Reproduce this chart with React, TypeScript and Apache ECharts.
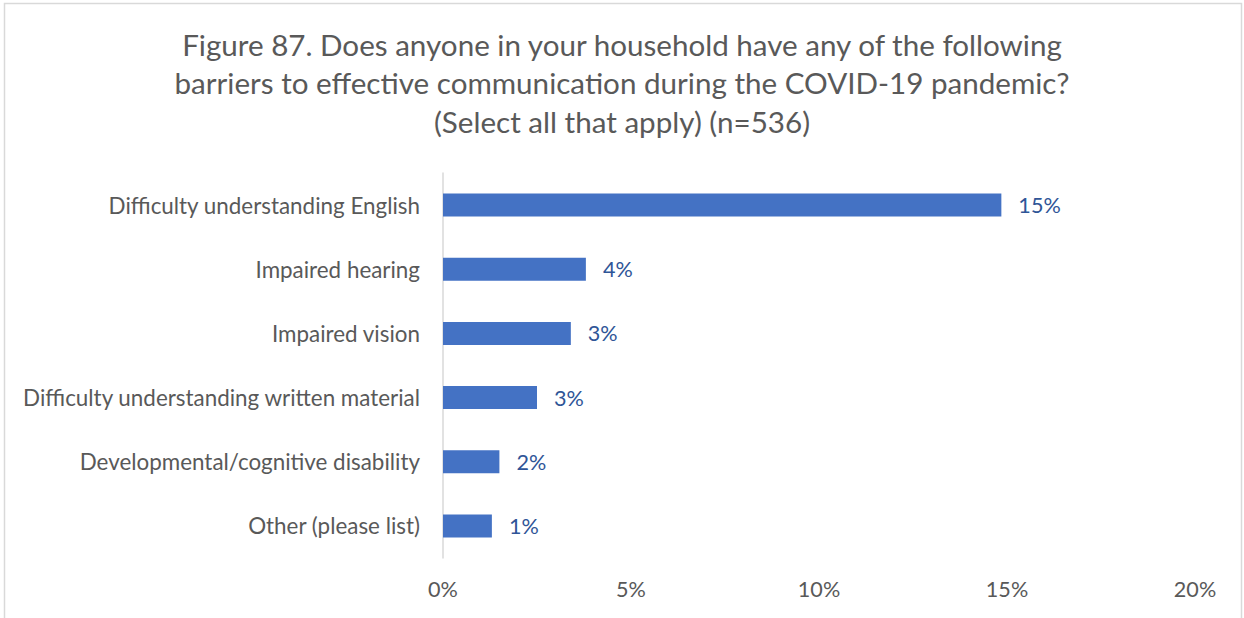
import React, { useEffect, useRef } from "react";
import * as echarts from "echarts";

const titleLines = [
  "Figure 87. Does anyone in your household have any of the following",
  "barriers to effective communication during the COVID-19 pandemic?",
  "(Select all that apply) (n=536)",
];
const categories = [
  "Difficulty understanding English",
  "Impaired hearing",
  "Impaired vision",
  "Difficulty understanding written material",
  "Developmental/cognitive disability",
  "Other (please list)",
];
const values = [14.85, 3.8, 3.4, 2.5, 1.5, 1.3];
const axisMin = 0;
const axisMax = 20;
const axisStep = 5;

export default function App() {
  const ref = useRef<HTMLDivElement>(null);
  useEffect(() => {
    document.body.style.margin = "0";
    const chart = echarts.init(ref.current!, null, { renderer: "svg" });
    const font = "Lato";
    chart.setOption({
      animation: false,
      backgroundColor: "#ffffff",
      textStyle: { fontFamily: font },
      title: {
        text: titleLines.join("\n"),
        left: "center",
        top: 20,
        textStyle: {
          fontFamily: font,
          fontSize: 29.6,
          fontWeight: "normal",
          color: "#595959",
          lineHeight: 38.5,
        },
      },
      graphic: [
        {
          type: "rect",
          shape: { x: 4.5, y: 3.5, width: 1237, height: 640 },
          style: { fill: "none", stroke: "#d9d9d9", lineWidth: 1.5 },
          silent: true,
        },
      ],
      grid: { left: 443, top: 173, width: 752, height: 385, containLabel: false },
      xAxis: {
        type: "value",
        min: axisMin,
        max: axisMax,
        interval: axisStep,
        axisLine: { show: false },
        axisTick: { show: false },
        splitLine: { show: false },
        axisLabel: {
          formatter: "{value}%",
          fontFamily: font,
          fontSize: 21.6,
          color: "#595959",
          margin: 20,
        },
      },
      yAxis: {
        type: "category",
        inverse: true,
        data: categories,
        axisLine: { show: true, lineStyle: { color: "#d9d9d9", width: 1.5 } },
        axisTick: { show: false },
        axisLabel: {
          fontFamily: font,
          fontSize: 22.4,
          color: "#595959",
          margin: 23,
        },
      },
      series: [
        {
          type: "bar",
          data: values,
          barWidth: 23,
          itemStyle: { color: "#4472c4" },
          label: {
            show: true,
            position: "right",
            distance: 17,
            fontFamily: font,
            fontSize: 21.6,
            color: "#2f5597",
            formatter: (p: any) => Math.round(p.value) + "%",
          },
        },
      ],
    });
    return () => chart.dispose();
  }, []);
  return <div ref={ref} style={{ width: 1244, height: 618 }} />;
}
